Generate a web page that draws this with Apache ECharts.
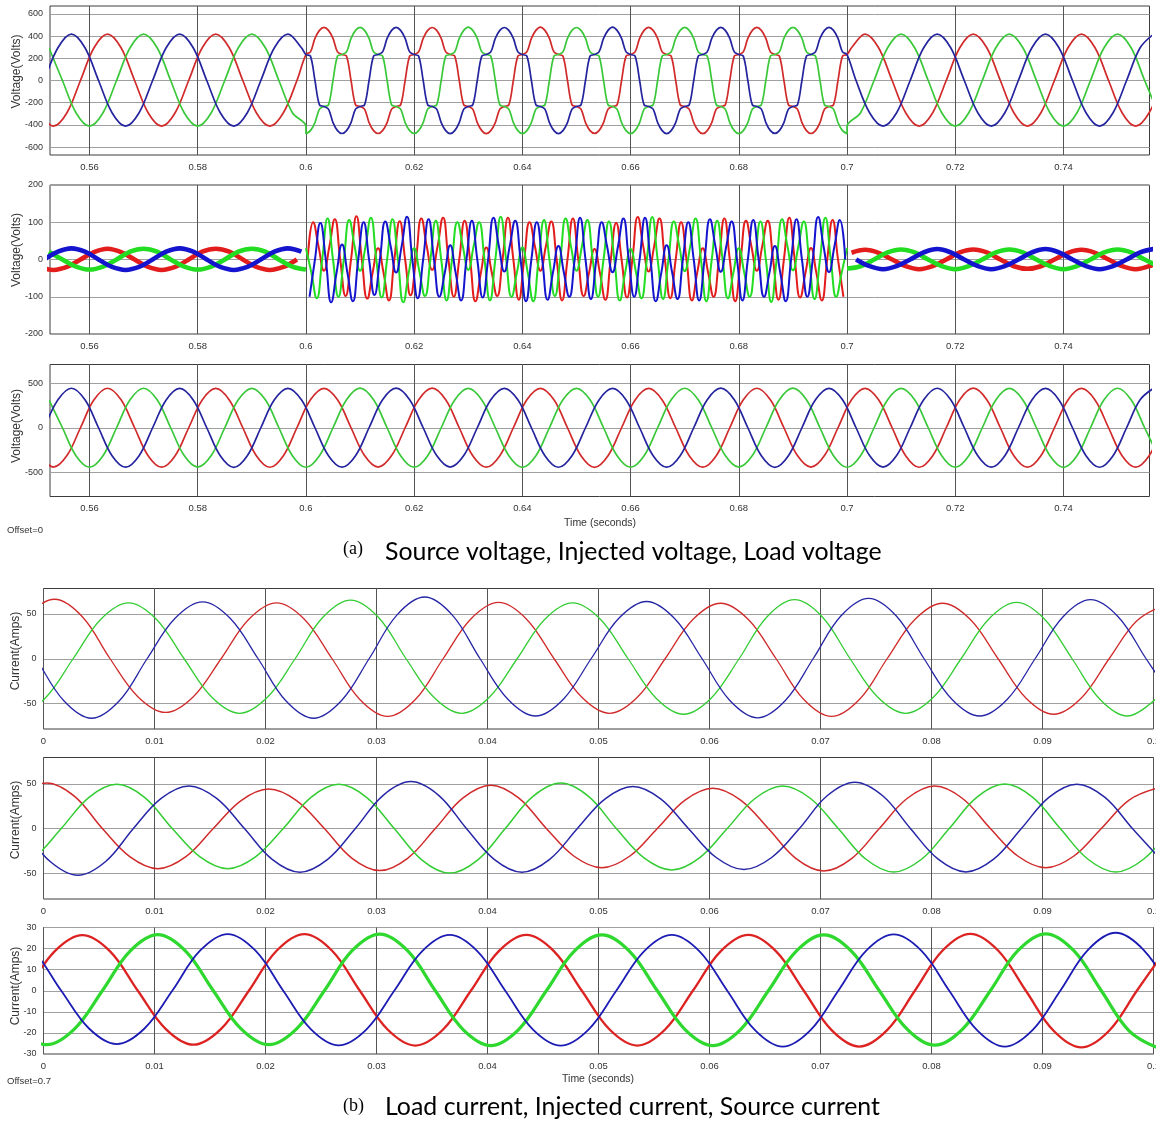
<!DOCTYPE html>
<html>
<head>
<meta charset="utf-8">
<script src="https://cdn.jsdelivr.net/npm/echarts@6/dist/echarts.min.js"></script>
<style>
  html, body { margin: 0; padding: 0; background: #ffffff; }
  #chart { width: 1156px; height: 1121px; }
</style>
</head>
<body>
<div id="chart"></div>
<script>
// ===================== Waveform samples =====================
// Each trace: a start time (s), a sample step (s) and the sampled values.
// Phase order in every start-time list: [red, green, blue].

// ---- (a) time window and tick labels ----
const winA = [0.5527, 0.7559];
const ticksA = [0.56, 0.58, 0.6, 0.62, 0.64, 0.66, 0.68, 0.7, 0.72, 0.74];
const winB = [0, 0.1];

// ---- Source voltage (V) ----
// before the disturbance, 2.5 ms steps
const srcPreT0 = [0.550833, 0.5525, 0.551667];
const srcRedPre = [-291,-412,-291,0,295,418,295,0,-291,-412,-291,0,295,418,295,0,-291,-412,-291,0];
const srcGreenPre = [295,0,-291,-412,-291,0,295,418,295,0,-291,-412,-291,0,295,418,295,0,-291,-412];
const srcBluePre = [0,295,418,295,0,-291,-412,-291,0,295,418,295,0,-291,-412,-291,0,295,418,295];
// distorted interval 0.6–0.7 s, 1/1200 s steps
const srcMidT0 = 0.6, srcMidDt = 1 / 1200;
const srcRedMid = [
  234,258,380,452,480,452,380,258,234,220,0,-220,-234,-258,-380,-452,-478,-452,-380,-258,-234,-220,0,220,
  234,258,380,452,478,452,380,258,234,220,0,-220,-234,-258,-380,-452,-480,-452,-380,-258,-234,-220,0,220,
  234,258,380,452,481,452,380,258,234,220,0,-220,-234,-258,-380,-452,-477,-452,-380,-258,-234,-220,0,220,
  234,258,380,452,479,452,380,258,234,220,0,-220,-234,-258,-380,-452,-480,-452,-380,-258,-234,-220,0,220,
  234,258,380,452,480,452,380,258,234,220,0,-220,-234,-258,-380,-452,-478,-452,-380,-258,-234,-220,0,220,
  234];
const srcGreenMid = [
  -480,-452,-380,-258,-234,-220,0,220,234,258,380,452,479,452,380,258,234,220,0,-220,-234,-258,-380,-452,
  -478,-452,-380,-258,-234,-220,0,220,234,258,380,452,481,452,380,258,234,220,0,-220,-234,-258,-380,-452,
  -480,-452,-380,-258,-234,-220,0,220,234,258,380,452,478,452,380,258,234,220,0,-220,-234,-258,-380,-452,
  -479,-452,-380,-258,-234,-220,0,220,234,258,380,452,480,452,380,258,234,220,0,-220,-234,-258,-380,-452,
  -480,-452,-380,-258,-234,-220,0,220,234,258,380,452,479,452,380,258,234,220,0,-220,-234,-258,-380,-452,
  -480];
const srcBlueMid = [
  234,220,0,-220,-234,-258,-380,-452,-478,-452,-380,-258,-234,-220,0,220,234,258,380,452,480,452,380,258,
  234,220,0,-220,-234,-258,-380,-452,-480,-452,-380,-258,-234,-220,0,220,234,258,380,452,478,452,380,258,
  234,220,0,-220,-234,-258,-380,-452,-479,-452,-380,-258,-234,-220,0,220,234,258,380,452,481,452,380,258,
  234,220,0,-220,-234,-258,-380,-452,-480,-452,-380,-258,-234,-220,0,220,234,258,380,452,479,452,380,258,
  234,220,0,-220,-234,-258,-380,-452,-477,-452,-380,-258,-234,-220,0,220,234,258,380,452,480,452,380,258,
  234];
// after the disturbance, 2.5 ms steps
const srcPostT0 = [0.700833, 0.7, 0.701667];
const srcRedPost = [295,418,295,0,-291,-412,-291,0,295,418,295,0,-291,-412,-291,0,295,418,295,0,-291,-412,-291,0];
const srcGreenPost = [-412,-291,0,295,418,295,0,-291,-412,-291,0,295,418,295,0,-291,-412,-291,0,295,418,295,0,-291];
const srcBluePost = [0,-291,-412,-291,0,295,418,295,0,-291,-412,-291,0,295,418,295,0,-291,-412,-291,0,295,418];

// ---- Injected voltage (V) ----
const injPreT0 = [0.550833, 0.5525, 0.551667];
const injRedPre = [-20,-28,-20,0,20,29,20,0,-20,-28,-20,0,21,29,21,0,-20,-28,-20,0];
const injGreenPre = [21,0,-19,-27,-19,0,21,29,21,0,-19,-27,-19,0,21,29,21,0,-19,-27];
const injBluePre = [0,21,30,21,0,-20,-28,-20,0,21,30,21,0,-20,-28,-20,0,21,30,21];
// compensation interval, 1 ms steps
const injMidT0 = [0.600333, 0.6, 0.600667], injMidDt = 0.001;
const injRedMid = [0,100,35,
  -30,35,108,0,-98,0,116,0,-105,-35,30,-35,-110,0,103,0,-96,0,110,35,
  -28,36,112,0,-100,0,104,0,-112,-36,32,-34,-98,0,112,0,-108,0,100,34,
  -30,35,102,0,-110,0,110,0,-98,-35,28,-36,-108,0,98,0,-102,0,114,36,
  -32,34,110,0,-104,0,100,0,-110,-34,30,-35,-100,0,110,0,-112,0,104,35,
  -30,36,104,0,-108,0,112,0,-102,-35,31,-36,-110,0,106,0,-100];
const injGreenMid = [30,-35,-104,0,110,0,-100,0,106,35,
  -30,34,112,0,-102,0,108,0,-115,-36,30,-35,-98,0,104,0,-110,0,100,35,
  -28,36,100,0,-110,0,115,0,-100,-34,32,-36,-112,0,106,0,-98,0,110,34,
  -30,35,106,0,-100,0,102,0,-110,-35,28,-34,-104,0,114,0,-106,0,102,36,
  -31,34,110,0,-112,0,104,0,-104,-35,30,-35,-100,0,102,0,-114,0,108,35,
  -29,35,102,0,-106,0,112,0,-100,-36,30];
const injBlueMid = [-100,0,98,0,-115,-35,40,-36,-112,0,100,0,-95,0,102,35,
  -35,34,115,0,-104,0,108,0,-100,-35,38,-36,-110,0,104,0,-102,0,112,35,
  -32,36,104,0,-112,0,100,0,-108,-34,36,-35,-100,0,112,0,-106,0,100,34,
  -34,35,110,0,-100,0,112,0,-112,-36,38,-34,-106,0,100,0,-110,0,108,36,
  -33,34,102,0,-110,0,106,0,-100,-35,36,-36,-112,0,108,0,-100,0,114,35,
  -34,35,106,0];
const injPostT0 = [0.700833, 0.7, 0.701667];
const injRedPost = [18,26,18,0,-18,-26,-18,0,19,27,19,0,-18,-25,-18,0,18,26,18,0,-18,-26,-18,0];
const injGreenPost = [-24,-18,0,19,27,19,0,-18,-26,-18,0,19,27,19,0,-18,-26,-18,0,19,27,19,0,-18];
const injBluePost = [0,-18,-26,-18,0,19,28,19,0,-18,-26,-18,0,19,28,19,0,-18,-26,-18,0,19,28];

// ---- Load voltage (V), 2.5 ms steps ----
const loadT0 = [0.550833, 0.5525, 0.551667];
const loadRed = [
  -314,-444,-314,0,315,446,315,0, -315,-445,-315,0,314,444,314,0,
  -315,-446,-315,0,315,445,315,0, -314,-444,-314,0,316,447,316,0,
  -315,-445,-315,0,315,445,315,0, -316,-447,-316,0,314,444,314,0,
  -315,-445,-315,0,315,446,315,0, -314,-444,-314,0,315,445,315,0,
  -315,-446,-315,0,316,447,316,0, -315,-445,-315,0,314,444,314,0,
  -315,-445,-315,0];
const loadGreen = [
  315,0,-315,-445,-315,0,315,446, 315,0,-314,-444,-314,0,315,445,
  315,0,-315,-446,-315,0,316,447, 316,0,-315,-445,-315,0,314,444,
  314,0,-316,-447,-316,0,315,445, 315,0,-315,-445,-315,0,315,446,
  315,0,-314,-444,-314,0,316,447, 316,0,-315,-446,-315,0,315,445,
  315,0,-315,-445,-315,0,314,444, 314,0,-316,-447,-316,0,315,446,
  315,0,-315];
const loadBlue = [
  0,315,446,315,0,-315,-445,-315, 0,314,444,314,0,-316,-447,-316,
  0,315,445,315,0,-315,-445,-315, 0,316,447,316,0,-314,-444,-314,
  0,315,445,315,0,-315,-446,-315, 0,314,444,314,0,-315,-445,-315,
  0,316,447,316,0,-316,-447,-316, 0,315,445,315,0,-314,-444,-314,
  0,315,446,315,0,-315,-445,-315, 0,314,444,314,0,-315,-446,-315,
  0,315,445];

// ---- Load current (A), 2.5 ms steps ----
const ilT0 = [-0.004, -0.004833, -0.005667];
const ilRed = [0,47,66.5,47, 0,-42.4,-60,-42.4, 0,44.2,62.5,44.2, 0,-45.6,-64.5,-45.6, 0,44.5,63,44.5,
  0,-43.1,-61,-43.1, 0,43.8,62,43.8, 0,-45.6,-64.5,-45.6, 0,43.8,62,43.8, 0,-43.8,-62,-43.8, 0,42.4,60];
const ilGreen = [-43.8,-62,-43.8, 0,44.2,62.5,44.2, 0,-43.1,-61,-43.1, 0,46.3,65.5,46.3, 0,-43.1,-61,-43.1,
  0,44.2,62.5,44.2, 0,-43.8,-62,-43.8, 0,46.7,66,46.7, 0,-43.1,-61,-43.1, 0,44.5,63,44.5, 0,-45.2,-64,-45.2];
const ilBlue = [64,45.2, 0,-47,-66.5,-47, 0,44.9,63.5,44.9, 0,-47,-66.5,-47, 0,48.8,69,48.8, 0,-45.2,-64,-45.2,
  0,45.2,64,45.2, 0,-46.7,-66,-46.7, 0,47.7,67.5,47.7, 0,-45.2,-64,-45.2, 0,46.7,66,46.7, 0,-46];

// ---- Injected current (A), 2.5 ms steps ----
const iiT0 = [-0.0047, -0.0034, -0.0044];
const iiRed = [0,36,51,36, 0,-31.8,-45,-31.8, 0,31.3,44.2,31.3, 0,-33.4,-47.2,-33.4, 0,34.3,48.5,34.3,
  0,-31.1,-44,-31.1, 0,31.8,45,31.8, 0,-33.7,-47.6,-33.7, 0,33.6,47.5,33.6, 0,-31.1,-44,-31.1, 0,31.8,45];
const iiGreen = [-47,-33.2, 0,34.9,49.4,34.9, 0,-31.8,-45,-31.8, 0,34.9,49.4,34.9, 0,-35.4,-50,-35.4,
  0,35.9,50.8,35.9, 0,-32.9,-46.5,-32.9, 0,33.6,47.5,33.6, 0,-34.5,-48.8,-34.5, 0,35.1,49.7,35.1,
  0,-34.5,-48.8,-34.5, 0];
const iiBlue = [33.2,0,-37,-52.4,-37, 0,33.7,47.6,33.7, 0,-34.6,-49,-34.6, 0,37.1,52.5,37.1,
  0,-34.6,-49,-34.6, 0,33.2,47,33.2, 0,-32.5,-46,-32.5, 0,36.6,51.8,36.6, 0,-34.4,-48.7,-34.4,
  0,35.1,49.6,35.1, 0,-33.9];

// ---- Source current (A), 2.5 ms steps ----
const isT0 = [-0.004, -0.0072, -0.0059];
const isRed = [-18.4,0,18.7,26.4,18.7, 0,-18.1,-25.6,-18.1, 0,19,26.9,19, 0,-18.4,-26,-18.4,
  0,18.7,26.5,18.7, 0,-18.4,-26,-18.4, 0,18.7,26.5,18.7, 0,-18.7,-26.5,-18.7, 0,19.1,27,19.1,
  0,-19,-26.9,-19, 0,18.7];
const isGreen = [18.7,0,-18.1,-25.6,-18.1, 0,18.8,26.6,18.8, 0,-18.1,-25.6,-18.1, 0,19,26.9,19,
  0,-18.4,-26,-18.4, 0,18.7,26.5,18.7, 0,-18.4,-26,-18.4, 0,18.7,26.5,18.7, 0,-18.2,-25.8,-18.2,
  0,19.1,27,19.1, 0,-19,-26.9];
const isBlue = [18.7,26.5,18.7, 0,-17.9,-25.3,-17.9, 0,19,26.9,19, 0,-18.3,-25.9,-18.3,
  0,18.7,26.5,18.7, 0,-18.4,-26,-18.4, 0,18.7,26.5,18.7, 0,-18.7,-26.5,-18.7, 0,18.9,26.7,18.9,
  0,-18.7,-26.5,-18.7, 0,19.4,27.5,19.4, 0];

// ===================== Chart =====================
const pts = (t0, dt, vals) => vals.map((v, i) => [+(t0 + i * dt).toFixed(7), v]);
const STEP = 0.0025;

const FONT = '"Liberation Sans", Arial, sans-serif';
const TXT = '#333333';

// plot rectangles, top to bottom
const rects = [
  { left: 50, top: 6, width: 1099.5, height: 149 },
  { left: 50, top: 185, width: 1099.5, height: 149 },
  { left: 50, top: 364.5, width: 1099.5, height: 132 },
  { left: 43.5, top: 588.5, width: 1110, height: 140.5 },
  { left: 43.5, top: 757.5, width: 1110, height: 141.5 },
  { left: 43.5, top: 927.5, width: 1110, height: 126.5 }
];

const grids = rects.map(r => ({
  left: r.left, top: r.top, width: r.width, height: r.height,
  containLabel: false, outerBoundsMode: 'none',
  show: true, borderColor: '#3c3c3c', borderWidth: 1, backgroundColor: '#ffffff'
}));

const vGrid = { show: true, lineStyle: { color: '#555555', width: 1 } };
const hGrid = { show: true, lineStyle: { color: '#a0a0a0', width: 1 } };

function xAxisA(i) {
  return {
    gridIndex: i, type: 'value', min: winA[0], max: winA[1],
    axisLine: { show: false },
    axisTick: { show: false, customValues: ticksA },
    axisLabel: { customValues: ticksA, fontSize: 9.5, fontFamily: FONT, color: TXT, margin: 7,
      formatter: v => String(+(+v).toFixed(2)) },
    splitLine: vGrid
  };
}
function xAxisB(i) {
  return {
    gridIndex: i, type: 'value', min: winB[0], max: winB[1], interval: 0.01,
    axisLine: { show: false }, axisTick: { show: false },
    axisLabel: { fontSize: 9.5, fontFamily: FONT, color: TXT, margin: 7, interval: 0,
      formatter: v => String(+(+v).toFixed(2)) },
    splitLine: vGrid
  };
}
function yAxis(i, min, max, opt) {
  const ax = {
    gridIndex: i, type: 'value', min, max,
    axisLine: { show: false }, axisTick: { show: false },
    axisLabel: { fontSize: 9, fontFamily: FONT, color: TXT, margin: 7 },
    splitLine: hGrid
  };
  if (opt.interval) ax.interval = opt.interval;
  if (opt.values) {
    ax.axisTick.customValues = opt.values;
    ax.axisLabel.customValues = opt.values;
  }
  return ax;
}

const xAxes = [xAxisA(0), xAxisA(1), xAxisA(2), xAxisB(3), xAxisB(4), xAxisB(5)];
const yAxes = [
  yAxis(0, -672, 672, { values: [-600, -400, -200, 0, 200, 400, 600] }),
  yAxis(1, -200, 200, { interval: 100 }),
  yAxis(2, -776, 714, { values: [-500, 0, 500] }),
  yAxis(3, -78.5, 78.5, { values: [-50, 0, 50] }),
  yAxis(4, -79, 79.5, { values: [-50, 0, 50] }),
  yAxis(5, -30, 30, { interval: 10 })
];

function line(ax, data, color, width, smooth) {
  return {
    type: 'line', xAxisIndex: ax, yAxisIndex: ax, data,
    symbol: 'none', showSymbol: false, smooth,
    lineStyle: { color, width }, itemStyle: { color },
    silent: true, clip: true, animation: false
  };
}

const series = [];

// (a) source voltage: one trace per phase through all three intervals
const srcC = ['#d12a2a', '#3ac83a', '#24249e'];
[[srcRedPre, srcRedMid, srcRedPost], [srcGreenPre, srcGreenMid, srcGreenPost], [srcBluePre, srcBlueMid, srcBluePost]]
  .forEach((p, k) => {
    const d = pts(srcPreT0[k], STEP, p[0])
      .concat(pts(srcMidT0, srcMidDt, p[1]))
      .concat(pts(srcPostT0[k], STEP, p[2]));
    series.push(line(0, d, srcC[k], 1.7, 0.35));
  });

// (a) injected voltage: thick steady-state traces, thinner compensation burst
const injC = ['#e31c1c', '#22dd22', '#1414cf'];
[[injRedPre, injRedMid, injRedPost], [injGreenPre, injGreenMid, injGreenPost], [injBluePre, injBlueMid, injBluePost]]
  .forEach((p, k) => {
    series.push(line(1, pts(injPreT0[k], STEP, p[0]), injC[k], 4.6, 0.37));
    series.push(line(1, pts(injMidT0[k], injMidDt, p[1]), injC[k], 2, 0.5));
    series.push(line(1, pts(injPostT0[k], STEP, p[2]), injC[k], 4.6, 0.37));
  });

// (a) load voltage
const loadC = ['#d12a2a', '#3ac83a', '#24249e'];
[loadRed, loadGreen, loadBlue].forEach((v, k) => series.push(line(2, pts(loadT0[k], STEP, v), loadC[k], 1.7, 0.37)));

// (b) currents
const curC = ['#d02a2a', '#33cc33', '#2626a6'];
[ilRed, ilGreen, ilBlue].forEach((v, k) => series.push(line(3, pts(ilT0[k], STEP, v), curC[k], 1.3, 0.37)));
[iiRed, iiGreen, iiBlue].forEach((v, k) => series.push(line(4, pts(iiT0[k], STEP, v), curC[k], 1.5, 0.37)));
const isC = ['#dd2222', '#2ed82e', '#1c1cb4'];
const isW = [2.3, 3.2, 1.8];
[isRed, isGreen, isBlue].forEach((v, k) => series.push(line(5, pts(isT0[k], STEP, v), isC[k], isW[k], 0.37)));

// ---- text ----
function fitSize(text, family, target) {
  const c = document.createElement('canvas').getContext('2d');
  c.font = '100px ' + family;
  return 100 * target / c.measureText(text).width;
}
function label(text, x, y, size, opts) {
  opts = opts || {};
  return {
    type: 'text', x, y, rotation: opts.rot || 0, silent: true, z: 10,
    style: {
      text, fontSize: size, fontFamily: opts.family || FONT, fill: opts.color || TXT,
      align: opts.align || 'center', verticalAlign: 'middle',
      textAlign: opts.align || 'center', textVerticalAlign: 'middle'
    }
  };
}
const capA = 'Source voltage, Injected voltage, Load voltage';
const capB = 'Load current, Injected current, Source current';
const capFamily = 'Lato, "Open Sans", sans-serif';
const capSize = fitSize(capA, 'Lato', 497);

const graphic = [
  label('Voltage(Volts)', 16.5, 71.5, 12, { rot: Math.PI / 2 }),
  label('Voltage(Volts)', 16.5, 250, 12, { rot: Math.PI / 2 }),
  label('Voltage(Volts)', 16.5, 426, 12, { rot: Math.PI / 2 }),
  label('Current(Amps)', 15.5, 651, 12, { rot: Math.PI / 2 }),
  label('Current(Amps)', 15.5, 820, 12, { rot: Math.PI / 2 }),
  label('Current(Amps)', 15.5, 986, 12, { rot: Math.PI / 2 }),
  label('Time (seconds)', 600, 523, 10.5),
  label('Time (seconds)', 598, 1079, 10.5),
  label('Offset=0', 7, 530, 9.5, { align: 'left' }),
  label('Offset=0.7', 7, 1081, 9.5, { align: 'left' }),
  label('(a)', 343, 549, 18, { align: 'left', family: '"Liberation Serif", serif', color: '#000' }),
  label(capA, 385, 552, capSize, { align: 'left', family: capFamily, color: '#000' }),
  label('(b)', 343, 1106, 18, { align: 'left', family: '"Liberation Serif", serif', color: '#000' }),
  label(capB, 385, 1107, capSize, { align: 'left', family: capFamily, color: '#000' })
];

const chart = echarts.init(document.getElementById('chart'), null, { renderer: 'canvas' });
chart.setOption({
  animation: false,
  backgroundColor: '#ffffff',
  grid: grids,
  xAxis: xAxes,
  yAxis: yAxes,
  series,
  graphic
});
</script>
</body>
</html>
